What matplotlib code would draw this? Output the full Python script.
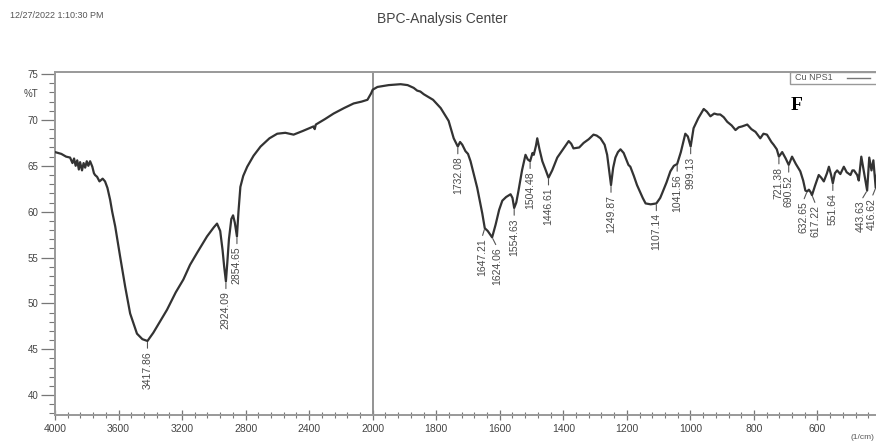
import numpy as np
import matplotlib
matplotlib.use("Agg")
import matplotlib.pyplot as plt
from matplotlib.ticker import MultipleLocator, FixedLocator
from matplotlib.patches import Rectangle
from matplotlib.lines import Line2D

plt.rcParams["font.family"] = ["Liberation Sans", "DejaVu Sans"]

W, H = 876, 442

# spectrum (wavenumber, %T)
wavenumber = [
    4000, 3960, 3930, 3905, 3890, 3880, 3870, 3860, 3850, 3842, 3830, 3820,
    3810, 3800, 3790, 3779, 3765, 3755, 3748, 3735, 3720, 3700, 3685, 3670,
    3653, 3640, 3621, 3590, 3558, 3527, 3484, 3450, 3417.86, 3381, 3340, 3295,
    3240, 3192, 3150, 3106, 3043, 3000, 2980, 2960, 2945, 2935, 2924.09, 2915,
    2905, 2890, 2879, 2868, 2854.65, 2845, 2833, 2815, 2790, 2750, 2706, 2650,
    2601, 2550, 2498, 2440, 2400, 2372, 2365, 2358, 2300, 2246, 2180, 2120,
    2070, 2033, 2010, 2000,
    1985, 1950, 1912, 1890, 1871, 1860, 1850, 1839, 1810, 1786, 1761, 1745,
    1738, 1732.08, 1725, 1718, 1708, 1700, 1692, 1671, 1655, 1647.21, 1638,
    1624.06, 1613, 1602, 1592, 1580, 1566, 1560, 1554.63, 1548, 1541, 1530,
    1519, 1512, 1504.48, 1497, 1493, 1486, 1482, 1475, 1466, 1455, 1446.61,
    1435, 1419, 1405, 1383, 1375, 1368, 1350, 1336, 1320, 1305, 1295, 1283,
    1270, 1262, 1249.87, 1243, 1236, 1228, 1220, 1210, 1195, 1189, 1178, 1168,
    1150, 1141, 1125, 1107.14, 1095, 1089, 1075, 1063, 1052, 1041.56, 1030,
    1016, 1008, 999.13, 990, 975, 958, 948, 937, 925, 915, 906, 895, 884, 870,
    858, 848, 837, 821, 808, 795, 780, 770, 759, 745, 738, 728, 721.38, 711,
    700, 690.52, 680, 668, 654, 645, 638, 632.65, 627, 621, 617.22, 608, 596,
    588, 580, 570, 564, 557, 551.64, 545, 538, 528, 517, 508, 496, 490, 485,
    475, 470, 462, 452, 443.63, 437, 430, 424, 416.62, 410, 400,
]
transmittance = [
    66.5, 66.3, 66.0, 65.9, 65.3, 65.8, 65.0, 65.6, 64.6, 65.4, 64.5, 65.3,
    64.8, 65.5, 65.0, 65.5, 64.9, 64.2, 64.0, 63.8, 63.3, 63.6, 63.3, 62.6,
    61.3, 60.0, 58.4, 55.1, 51.8, 48.9, 46.7, 46.1, 45.9, 46.8, 48.0, 49.3,
    51.2, 52.6, 54.2, 55.5, 57.3, 58.3, 58.7, 57.9, 55.8, 54.0, 52.4, 54.5,
    57.0, 59.2, 59.6, 58.8, 57.3, 60.0, 62.7, 63.9, 64.9, 66.1, 67.1, 68.0,
    68.5, 68.6, 68.4, 68.8, 69.1, 69.3, 69.0, 69.5, 70.1, 70.7, 71.3, 71.8,
    72.0, 72.2, 72.9, 73.3,
    73.6, 73.8, 73.9, 73.8, 73.5, 73.2, 73.1, 72.8, 72.2, 71.3, 69.9, 68.0,
    67.5, 67.1, 67.6, 67.3, 66.6, 66.3, 65.5, 62.6, 59.8, 58.2, 57.9,
    57.2, 58.6, 60.2, 61.2, 61.6, 61.9, 61.5, 60.4, 61.0, 62.3, 64.5,
    66.2, 65.7, 65.5, 66.4, 66.2, 67.2, 68.0, 66.8, 65.5, 64.5, 63.7,
    64.5, 65.9, 66.6, 67.7, 67.4, 66.9, 67.0, 67.5, 67.9, 68.4, 68.3, 68.0,
    67.3, 66.2, 62.9, 64.8, 65.9, 66.5, 66.8, 66.4, 65.1, 64.9, 63.9, 62.9,
    61.5, 60.9, 60.8, 60.9, 61.5, 62.0, 63.2, 64.4, 65.0, 65.2, 66.5,
    68.5, 68.2, 67.1, 69.1, 70.2, 71.2, 70.9, 70.4, 70.7, 70.6, 70.6, 70.3, 69.8, 69.4,
    68.9, 69.2, 69.3, 69.5, 69.0, 68.7, 68.0, 68.5, 68.4, 67.6, 67.3, 66.8, 66.0, 66.5,
    65.8, 65.1, 66.0, 65.2, 64.4, 63.4, 62.3, 62.2, 62.4, 62.1, 61.8, 62.8, 64.0,
    63.7, 63.3, 64.2, 64.9, 64.0, 63.1, 64.2, 64.5, 64.1, 64.9, 64.3, 64.0, 64.5, 64.5,
    64.0, 63.4, 66.0, 64.0, 62.3, 65.9, 64.5, 65.6, 62.6, 65.0, 64.5,
]

peak_labels = ["3417.86", "2924.09", "2854.65", "1732.08", "1647.21", "1624.06",
               "1554.63", "1504.48", "1446.61", "1249.87", "1107.14", "1041.56",
               "999.13", "721.38", "690.52", "632.65", "617.22", "551.64",
               "443.63", "416.62"]
# horizontal shift of the label (pixels) for crowded peaks
label_shift = {"1647.21": -3, "1624.06": 5, "632.65": -4, "617.22": 4,
               "443.63": -6, "416.62": -4}


def fwd(w):
    w = np.asarray(w, dtype=float)
    return np.where(w >= 2000, w, 2000 - 2 * (2000 - w))


def inv(t):
    t = np.asarray(t, dtype=float)
    return np.where(t >= 2000, t, 2000 - (2000 - t) / 2)


fig = plt.figure(figsize=(W / 100, H / 100), dpi=100)
ax = fig.add_axes([55 / W, 1 - 415 / H, (881 - 55) / W, (415 - 72) / H])

ax.set_xscale("function", functions=(fwd, inv))
ax.plot(wavenumber, transmittance, color="#333333", lw=1.6, zorder=3)
ax.set_xlim(4000, 400)
ax.set_ylim(37.83, 75.23)

ax.axvline(2000, color="#8a8a8a", lw=1.3, zorder=2)

# ticks (400 falls just outside the visible picture)
ax.xaxis.set_major_locator(FixedLocator([4000, 3600, 3200, 2800, 2400, 2000,
                                         1800, 1600, 1400, 1200, 1000, 800, 600]))
ax.xaxis.set_minor_locator(FixedLocator(list(range(4000, 2000, -80))
                                        + list(range(2000, 399, -40))))
ax.yaxis.set_major_locator(MultipleLocator(5))
ax.yaxis.set_minor_locator(MultipleLocator(1))
ax.tick_params(axis="x", which="major", direction="inout", length=7, width=0.9,
               colors="#777777", labelcolor="#444444", labelsize=7.5, pad=3)
ax.tick_params(axis="x", which="minor", direction="inout", length=4, width=0.8,
               colors="#777777")
ax.tick_params(axis="y", which="major", direction="out", length=10, width=0.9,
               colors="#777777", labelcolor="#444444", labelsize=7, pad=2)
ax.tick_params(axis="y", which="minor", direction="out", length=4, width=0.8,
               colors="#777777")
ax.xaxis.set_major_formatter(plt.FuncFormatter(lambda v, p: f"{v:.0f}"))
ax.xaxis.set_minor_formatter(plt.NullFormatter())

for s in ax.spines.values():
    s.set_color("#999999")
    s.set_linewidth(1.4)

# peak labels
wn = np.array(wavenumber)[::-1]
tr = np.array(transmittance)[::-1]
for lab in peak_labels:
    x = float(lab)
    y = np.interp(x, wn, tr)
    dx = label_shift.get(lab, 0)
    ax.annotate(lab, xy=(x, y), xytext=(dx, -10), textcoords="offset pixels",
                rotation=90, ha="center", va="top", fontsize=7.5, color="#4a4a4a",
                arrowprops=dict(arrowstyle="-", color="#555555", lw=0.8,
                                shrinkA=0, shrinkB=1, relpos=(0.5, 1.0)),
                annotation_clip=False, zorder=4)

# header texts
fig.text(10 / W, 1 - 16 / H, "12/27/2022 1:10:30 PM", fontsize=6.5, color="#555555",
         va="center", ha="left")
fig.text(442 / W, 1 - 19 / H, "BPC-Analysis Center", fontsize=10, color="#444444",
         va="center", ha="center")
fig.text(24 / W, 1 - 94 / H, "%T", fontsize=7, color="#444444", va="center", ha="left")
fig.text(874 / W, 1 - 441 / H, "(1/cm)", fontsize=6, color="#555555", va="bottom", ha="right")

# legend box
fig.patches.append(Rectangle((790 / W, 1 - 84 / H), 90 / W, 12 / H, transform=fig.transFigure,
                             fc="white", ec="#999999", lw=1.0, zorder=5))
fig.text(795 / W, 1 - 78 / H, "Cu NPS1", fontsize=6.5, color="#555555",
         va="center", ha="left", zorder=6)
fig.lines.append(Line2D([847 / W, 870 / W], [1 - 78 / H, 1 - 78 / H], transform=fig.transFigure,
                        color="#777777", lw=1.0, zorder=6))

fig.text(797 / W, 1 - 106 / H, "F", fontsize=14, fontweight="bold",
         family="Liberation Serif", color="black", va="center", ha="center")

fig.savefig("out.png", dpi=100)
